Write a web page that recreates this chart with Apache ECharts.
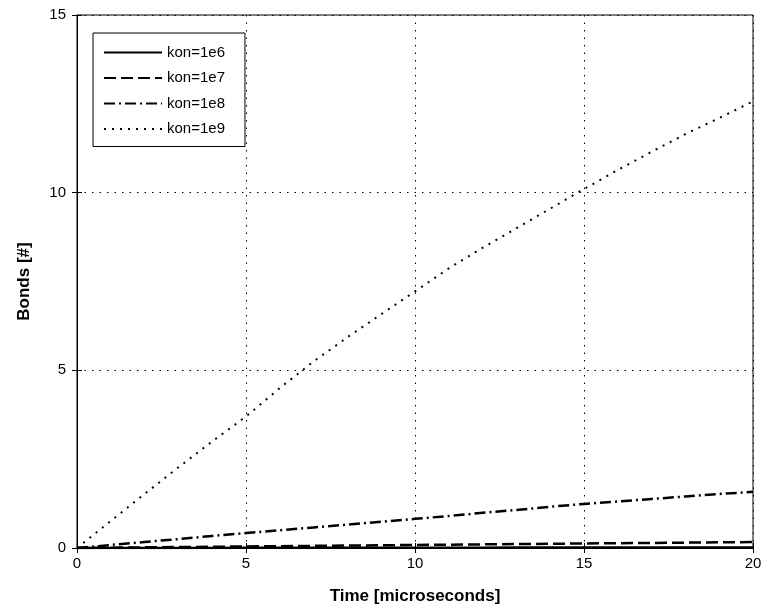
<!DOCTYPE html>
<html>
<head>
<meta charset="utf-8">
<script src="https://cdn.jsdelivr.net/npm/echarts@6/dist/echarts.min.js"></script>
<style>
  html, body { margin: 0; padding: 0; background: #fff; }
  #chart { width: 768px; height: 615px; }
</style>
</head>
<body>
<div id="chart"></div>
<script>
// time in microseconds
var time = [0, 1, 2, 3, 4, 5, 6, 7, 8, 9, 10, 11, 12, 13, 14, 15, 16, 17, 18, 19, 20];

// bonds for each kon value
var kon1e6 = [0, 0.001, 0.002, 0.003, 0.003, 0.004, 0.005, 0.006, 0.007, 0.008, 0.008,
              0.009, 0.010, 0.011, 0.012, 0.013, 0.013, 0.014, 0.015, 0.016, 0.017];
var kon1e7 = [0, 0.009, 0.018, 0.026, 0.035, 0.043, 0.052, 0.060, 0.069, 0.077, 0.086,
              0.094, 0.102, 0.111, 0.119, 0.127, 0.135, 0.143, 0.151, 0.159, 0.167];
var kon1e8 = [0, 0.085, 0.17, 0.25, 0.34, 0.42, 0.50, 0.58, 0.66, 0.74, 0.82,
              0.90, 0.99, 1.07, 1.16, 1.24, 1.31, 1.38, 1.45, 1.52, 1.58];
var kon1e9 = [0, 0.76, 1.52, 2.27, 3.0, 3.7, 4.5, 5.25, 5.93, 6.58, 7.22,
              7.87, 8.45, 9.0, 9.55, 10.1, 10.64, 11.15, 11.65, 12.1, 12.57];

var seriesNames = ['kon=1e6', 'kon=1e7', 'kon=1e8', 'kon=1e9'];

function pairs(ys) {
	var out = [];
	for (var i = 0; i < time.length; i++) {
		out.push([time[i], ys[i]]);
	}
	return out;
}

var font = 'Liberation Sans, Arial, sans-serif';
var gridDots = { color: '#000', width: 1, type: [1.5, 6] };

function lineSeries(name, ys, width, dash) {
	return {
		name: name,
		type: 'line',
		data: pairs(ys),
		symbol: 'none',
		animation: false,
		lineStyle: { color: '#000', width: width, type: dash },
		itemStyle: { color: '#000' }
	};
}

var chart = echarts.init(document.getElementById('chart'));
chart.setOption({
	backgroundColor: '#fff',
	textStyle: { fontFamily: font },
	grid: {
		left: 77, right: 15, top: 15, bottom: 67,
		show: true, borderColor: '#000', borderWidth: 1
	},
	legend: {
		orient: 'vertical',
		left: 93, top: 33,
		padding: [12, 20, 10, 10],
		itemWidth: 58,
		itemHeight: 16,
		itemGap: 10.5,
		borderColor: '#000',
		borderWidth: 1,
		backgroundColor: '#fff',
		itemStyle: { opacity: 0 },
		textStyle: { fontFamily: font, fontSize: 15, color: '#000' },
		data: seriesNames
	},
	xAxis: [{
		type: 'value',
		min: 0, max: 20, interval: 5,
		name: 'Time [microseconds]',
		nameLocation: 'middle',
		nameGap: 40,
		nameTextStyle: { fontFamily: font, fontSize: 17, fontWeight: 'bold', color: '#000' },
		axisLine: { lineStyle: { color: '#000', width: 1 } },
		axisTick: { inside: true, length: 5, lineStyle: { color: '#000' } },
		axisLabel: { fontFamily: font, fontSize: 15, color: '#000', margin: 8 },
		splitLine: { show: true, lineStyle: gridDots }
	}, {
		type: 'value',
		position: 'top',
		min: 0, max: 20, interval: 5,
		axisLine: { show: true, lineStyle: { color: '#000' } },
		axisTick: { inside: true, length: 5, lineStyle: { color: '#000' } },
		axisLabel: { show: false },
		splitLine: { show: false }
	}],
	yAxis: [{
		type: 'value',
		min: 0, max: 15, interval: 5,
		name: 'Bonds [#]',
		nameLocation: 'middle',
		nameGap: 44,
		nameTextStyle: { fontFamily: font, fontSize: 17, fontWeight: 'bold', color: '#000' },
		axisLine: { show: true, lineStyle: { color: '#000', width: 1 } },
		axisTick: { show: true, inside: true, length: 5, lineStyle: { color: '#000' } },
		axisLabel: { fontFamily: font, fontSize: 15, color: '#000', margin: 11 },
		splitLine: { show: true, lineStyle: gridDots }
	}, {
		type: 'value',
		position: 'right',
		min: 0, max: 15, interval: 5,
		axisLine: { show: true, lineStyle: { color: '#000' } },
		axisTick: { show: true, inside: true, length: 5, lineStyle: { color: '#000' } },
		axisLabel: { show: false },
		splitLine: { show: false }
	}],
	series: [
		lineSeries(seriesNames[0], kon1e6, 2.5, 'solid'),
		lineSeries(seriesNames[1], kon1e7, 2.5, [12, 5]),
		lineSeries(seriesNames[2], kon1e8, 2.5, [11, 4, 2, 4]),
		lineSeries(seriesNames[3], kon1e9, 2, [2, 6])
	]
});
</script>
</body>
</html>
